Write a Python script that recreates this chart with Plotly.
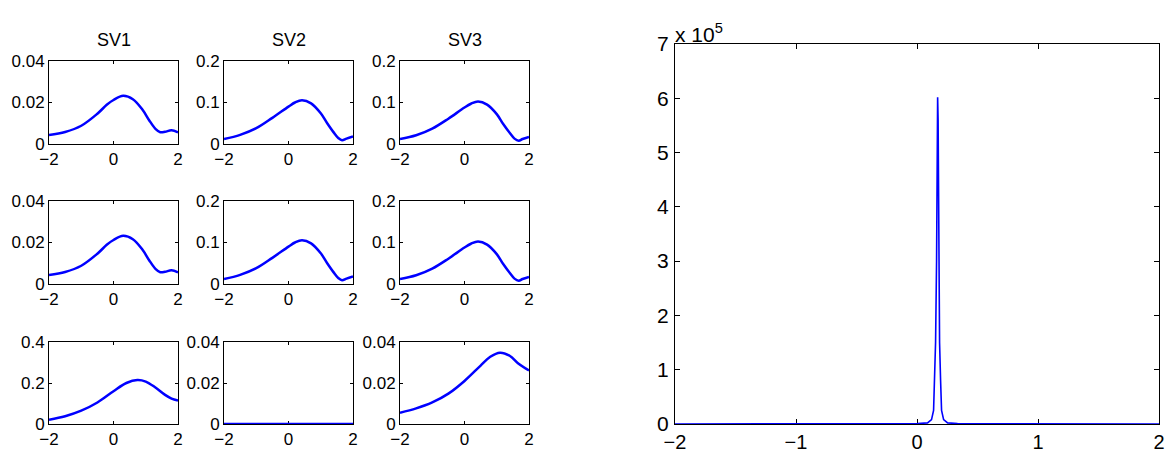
import plotly.graph_objects as go

# ---------------- data ----------------
sv1_x = [-2.0, -1.5, -1.0, -0.5, -0.2, 0.0, 0.3, 0.6, 0.9, 1.1, 1.3, 1.45, 1.6, 1.8, 2.0]
sv1_y = [0.0043, 0.0058, 0.0088, 0.0146, 0.0190, 0.0212, 0.0232, 0.0216, 0.0165, 0.0116, 0.0073, 0.0057, 0.0059, 0.0066, 0.0056]

sv2_x = [-2.0, -1.5, -1.0, -0.5, 0.0, 0.2, 0.42, 0.7, 1.0, 1.2, 1.4, 1.55, 1.66, 1.8, 2.0]
sv2_y = [0.012, 0.022, 0.038, 0.063, 0.090, 0.100, 0.1055, 0.098, 0.074, 0.050, 0.028, 0.014, 0.009, 0.013, 0.018]

sv3_x = [-2.0, -1.5, -1.0, -0.5, 0.0, 0.2, 0.42, 0.7, 1.0, 1.2, 1.4, 1.55, 1.68, 1.8, 2.0]
sv3_y = [0.012, 0.021, 0.037, 0.061, 0.088, 0.097, 0.1025, 0.095, 0.072, 0.048, 0.027, 0.013, 0.008, 0.012, 0.017]

r3sv1_x = [-2.0, -1.5, -1.0, -0.5, 0.0, 0.4, 0.74, 1.0, 1.3, 1.6, 1.8, 2.0]
r3sv1_y = [0.021, 0.038, 0.065, 0.105, 0.160, 0.200, 0.2145, 0.207, 0.178, 0.142, 0.124, 0.1145]

r3sv2_x = [-2.0, 2.0]
r3sv2_y = [0.0, 0.0]

r3sv3_x = [-2.0, -1.5, -1.0, -0.5, 0.0, 0.5, 0.8, 1.1, 1.4, 1.7, 2.0]
r3sv3_y = [0.0055, 0.0076, 0.0105, 0.0148, 0.0210, 0.0285, 0.0328, 0.0348, 0.0333, 0.0291, 0.0261]

peak_x = [-2.0, -0.3, 0.005, 0.087, 0.12, 0.137, 0.145, 0.1535, 0.1617, 0.1665, 0.1705,
          0.1745, 0.1783, 0.1865, 0.195, 0.203, 0.22, 0.253, 0.335, 0.65, 2.0]
peak_y = [0.0, 200, 800, 2000, 8000, 25000, 80000, 150000, 300000, 560000, 602000,
          560000, 300000, 150000, 80000, 25000, 8000, 2000, 800, 200, 0.0]

titles = ["SV1", "SV2", "SV3"]
small_xticks = [-2, 0, 2]
small_xticktext = ["\u22122", "0", "2"]
small_ymax = [[0.04, 0.2, 0.2], [0.04, 0.2, 0.2], [0.4, 0.04, 0.04]]
small_yticktext = [[["0", "0.02", "0.04"], ["0", "0.1", "0.2"], ["0", "0.1", "0.2"]],
                   [["0", "0.02", "0.04"], ["0", "0.1", "0.2"], ["0", "0.1", "0.2"]],
                   [["0", "0.2", "0.4"], ["0", "0.02", "0.04"], ["0", "0.02", "0.04"]]]
big_xticks = [-2, -1, 0, 1, 2]
big_xticktext = ["\u22122", "\u22121", "0", "1", "2"]
big_yticks = [0, 1e5, 2e5, 3e5, 4e5, 5e5, 6e5, 7e5]
big_yticktext = ["0", "1", "2", "3", "4", "5", "6", "7"]

curves = [[(sv1_x, sv1_y), (sv2_x, sv2_y), (sv3_x, sv3_y)],
          [(sv1_x, sv1_y), (sv2_x, sv2_y), (sv3_x, sv3_y)],
          [(r3sv1_x, r3sv1_y), (r3sv2_x, r3sv2_y), (r3sv3_x, r3sv3_y)]]

# ---------------- layout geometry ----------------
W, H = 1165, 452
col_px = [(49, 178), (224, 353), (400, 529)]
row_px = [(61, 144), (201, 284), (342, 424)]
big_px_x = (675, 1159)
big_px_y = (44, 424)

FONT = "Liberation Sans, Arial, Helvetica, sans-serif"

fig = go.Figure()
layout = dict(
    width=W, height=H, margin=dict(l=0, r=0, t=0, b=0, pad=0, autoexpand=False),
    paper_bgcolor="white", plot_bgcolor="white", showlegend=False,
    font=dict(family=FONT, color="black"),
)

def ax_common(size):
    return dict(showgrid=False, zeroline=False, showline=True, linecolor="black",
                linewidth=1, mirror="ticks", ticks="inside", tickcolor="black",
                automargin=False,
                tickfont=dict(family=FONT, size=size, color="black"))

annotations = []
idx = 0
for r in range(3):
    for c in range(3):
        idx += 1
        xs, ys = curves[r][c]
        xn = "x" if idx == 1 else f"x{idx}"
        yn = "y" if idx == 1 else f"y{idx}"
        fig.add_trace(go.Scatter(x=xs, y=ys, mode="lines", xaxis=xn, yaxis=yn,
                                 line=dict(color="#0000ff", width=2.5, shape="spline", smoothing=1.0),
                                 hoverinfo="skip", cliponaxis=False))
        x0, x1 = col_px[c]
        t, b = row_px[r]
        xa = ax_common(17)
        xa.update(domain=[x0 / W, x1 / W], range=[-2, 2], tickvals=small_xticks,
                  ticktext=small_xticktext, anchor=yn, ticklen=3, ticklabelstandoff=0,
                  layer="below traces")
        ya = ax_common(17)
        ymax = small_ymax[r][c]
        ya.update(domain=[(H - b) / H, (H - t) / H], range=[0, ymax],
                  tickvals=[0, ymax / 2, ymax], ticktext=small_yticktext[r][c],
                  anchor=xn, ticklen=3, ticklabelstandoff=0, layer="below traces")
        layout["xaxis" if idx == 1 else f"xaxis{idx}"] = xa
        layout["yaxis" if idx == 1 else f"yaxis{idx}"] = ya
        if r == 0:
            annotations.append(dict(text=titles[c], x=(x0 + x1) / 2 / W, y=(H - 40) / H,
                                    xref="paper", yref="paper", showarrow=False,
                                    font=dict(family=FONT, size=18, color="black"),
                                    xanchor="center", yanchor="middle"))

# big plot
fig.add_trace(go.Scatter(x=peak_x, y=peak_y, mode="lines", xaxis="x10", yaxis="y10",
                         line=dict(color="#0000ff", width=1.6), hoverinfo="skip"))
xa = ax_common(20)
xa.update(domain=[big_px_x[0] / W, big_px_x[1] / W], range=[-2, 2], tickvals=big_xticks,
          ticktext=big_xticktext, anchor="y10", ticklen=5, ticklabelstandoff=0,
          layer="below traces")
ya = ax_common(21)
ya.update(domain=[(H - big_px_y[1]) / H, (H - big_px_y[0]) / H], range=[0, 7e5],
          tickvals=big_yticks, ticktext=big_yticktext, anchor="x10", ticklen=5,
          ticklabelstandoff=1, layer="below traces")
layout["xaxis10"] = xa
layout["yaxis10"] = ya
annotations.append(dict(text="x 10<sup>5</sup>", x=(big_px_x[0] - 2) / W, y=(H - 44) / H,
                        xref="paper", yref="paper", showarrow=False,
                        font=dict(family=FONT, size=21, color="black"),
                        xanchor="left", yanchor="bottom", yshift=-4))
layout["annotations"] = annotations
fig.update_layout(**layout)
fig.write_html("out.html",
               config={"displayModeBar": False},
               post_script="document.body.style.margin='0';document.body.style.overflow='hidden';"
                           "document.documentElement.style.overflow='hidden';")
